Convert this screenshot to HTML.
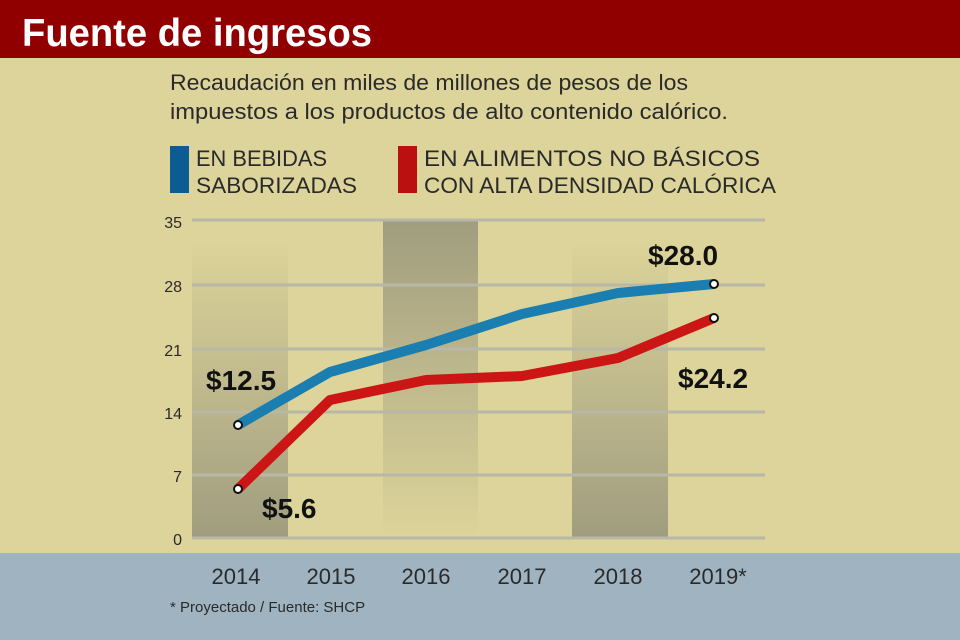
<!DOCTYPE html>
<html><head><meta charset="utf-8"><style>
body{margin:0;width:960px;height:640px;overflow:hidden;font-family:"Liberation Sans",sans-serif}
</style></head><body>
<svg width="960" height="640" xmlns="http://www.w3.org/2000/svg" style="display:block">
<defs>
<linearGradient id="gu" x1="0" y1="0" x2="0" y2="1"><stop offset="0" stop-color="#ddd49a"/><stop offset="1" stop-color="#a09d7f"/></linearGradient>
<linearGradient id="gd" x1="0" y1="0" x2="0" y2="1"><stop offset="0" stop-color="#a09d7f"/><stop offset="1" stop-color="#ddd49a"/></linearGradient>
</defs>
<rect width="960" height="640" fill="#dcd49a"/>
<rect width="960" height="58" fill="#900000"/>
<text x="22" y="46" font-size="39" font-weight="bold" fill="#fff" textLength="350" lengthAdjust="spacingAndGlyphs">Fuente de ingresos</text>
<rect y="553" width="960" height="87" fill="#9fb4c0"/>
<text font-size="22" fill="#2a2a2a"><tspan x="170" y="90" textLength="518" lengthAdjust="spacingAndGlyphs">Recaudación en miles de millones de pesos de los</tspan><tspan x="170" y="119" textLength="558" lengthAdjust="spacingAndGlyphs">impuestos a los productos de alto contenido calórico.</tspan></text>
<rect x="170" y="146" width="19" height="47" fill="#0c5c94"/>
<rect x="398" y="146" width="19" height="47" fill="#bb1010"/>
<text font-size="22" fill="#2a2a2a"><tspan x="196" y="166" textLength="131" lengthAdjust="spacingAndGlyphs">EN BEBIDAS</tspan><tspan x="196" y="193" textLength="161" lengthAdjust="spacingAndGlyphs">SABORIZADAS</tspan><tspan x="424" y="166" textLength="336" lengthAdjust="spacingAndGlyphs">EN ALIMENTOS NO BÁSICOS</tspan><tspan x="424" y="193" textLength="352" lengthAdjust="spacingAndGlyphs">CON ALTA DENSIDAD CALÓRICA</tspan></text>
<rect x="192" y="240" width="96" height="298" fill="url(#gu)"/>
<rect x="383" y="220" width="95" height="318" fill="url(#gd)"/>
<rect x="572" y="240" width="96" height="298" fill="url(#gu)"/>
<g stroke="#b8b8a8" stroke-width="3">
<line x1="192" y1="220" x2="765" y2="220"/><line x1="192" y1="285" x2="765" y2="285"/><line x1="192" y1="349" x2="765" y2="349"/><line x1="192" y1="412" x2="765" y2="412"/><line x1="192" y1="475" x2="765" y2="475"/><line x1="192" y1="538" x2="765" y2="538"/>
</g>
<g font-size="16" fill="#2a2a2a" text-anchor="end">
<text x="182" y="228">35</text><text x="182" y="292">28</text><text x="182" y="356">21</text><text x="182" y="419">14</text><text x="182" y="482">7</text><text x="182" y="545">0</text>
</g>
<polyline points="238,425 330,372 426,345 522,314 618,293 714,284" fill="none" stroke="#1a7fb0" stroke-width="10" stroke-linejoin="round"/>
<polyline points="238,489 330,400 426,380 522,376 618,358 714,318" fill="none" stroke="#cc1616" stroke-width="10" stroke-linejoin="round"/>
<g fill="#fff" stroke="#111" stroke-width="2">
<circle cx="238" cy="425" r="4"/><circle cx="714" cy="284" r="4"/><circle cx="238" cy="489" r="4"/><circle cx="714" cy="318" r="4"/>
</g>
<g font-size="28" font-weight="bold" fill="#111">
<text x="206" y="390">$12.5</text><text x="262" y="518">$5.6</text><text x="648" y="265">$28.0</text><text x="678" y="388">$24.2</text>
</g>
<g font-size="22" fill="#2a2a2a" text-anchor="middle">
<text x="236" y="584">2014</text><text x="331" y="584">2015</text><text x="426" y="584">2016</text><text x="522" y="584">2017</text><text x="618" y="584">2018</text><text x="718" y="584">2019*</text>
</g>
<text x="170" y="612" font-size="15" fill="#2a2a2a">* Proyectado / Fuente: SHCP</text>
</svg>
</body></html>
